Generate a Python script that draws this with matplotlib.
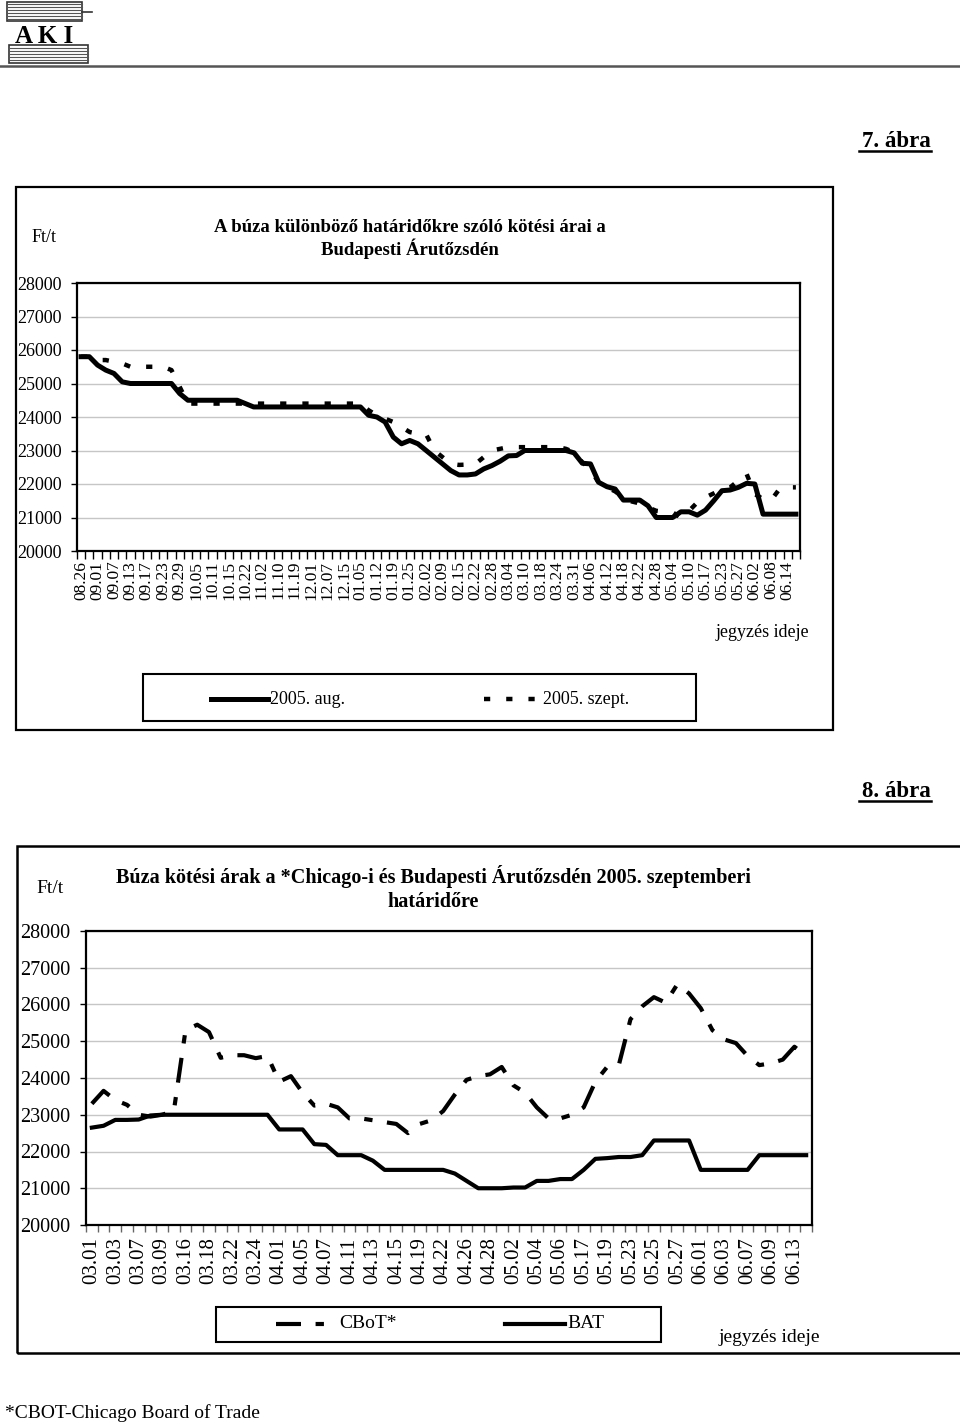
import numpy as np
import matplotlib
matplotlib.use("Agg")
import matplotlib.pyplot as plt
from matplotlib.lines import Line2D
from matplotlib.patches import Rectangle

plt.rcParams['font.family'] = ['Liberation Serif', 'DejaVu Serif']

# ---- 7. abra: aug / szept contracts ----
labels1 = ['08.26', '09.01', '09.07', '09.13', '09.17', '09.23', '09.29', '10.05', '10.11', '10.15',
           '10.22', '11.02', '11.10', '11.19', '12.01', '12.07', '12.15', '01.05', '01.12', '01.19',
           '01.25', '02.02', '02.09', '02.15', '02.22', '02.28', '03.04', '03.10', '03.18', '03.24',
           '03.31', '04.06', '04.12', '04.18', '04.22', '04.28', '05.04', '05.10', '05.17', '05.23',
           '05.27', '06.02', '06.08', '06.14']

aug = [25800, 25800, 25550, 25400, 25300, 25050, 25000, 25000, 25000, 25000, 25000, 25000,
       24700, 24500, 24500, 24500, 24500, 24500, 24500, 24500,
       24400, 24300, 24300, 24300, 24300, 24300, 24300, 24300, 24300, 24300, 24300, 24300, 24300, 24300, 24300,
       24050, 24000, 23850, 23400, 23200, 23300, 23200, 23000, 22800, 22600, 22400,
       22270, 22270, 22300, 22450, 22550, 22680, 22840, 22850, 23000, 23000, 23000, 23000, 23000, 23000,
       22930, 22620, 22600, 22050, 21920, 21850, 21520, 21520, 21520, 21350, 21000, 21000, 21000,
       21170, 21170, 21070, 21220, 21500, 21800, 21820, 21900, 22020, 22000, 21100, 21100, 21100, 21100, 21100]

szept = [25800, 25800, 25700, 25700, 25650, 25600, 25500, 25500, 25500, 25500, 25500, 25400, 24900, 24400,
         24400, 24400, 24400, 24400, 24400, 24400, 24400, 24400, 24400, 24400, 24400, 24400, 24400, 24400,
         24400, 24400, 24400, 24400, 24400, 24400, 24400,
         24200, 24050, 23950, 23850, 23700, 23550, 23500, 23480, 23000, 22800, 22600,
         22570, 22580, 22600, 22800, 23000, 23050, 23100, 23100, 23100, 23100, 23100, 23100, 23100, 23050,
         22950, 22650, 22450, 22030, 21900, 21780, 21600, 21480, 21420, 21300, 21200, 21170, 21150,
         21000, 21200, 21450, 21600, 21720, 21850, 21900, 22100, 22300, 21700, 21550, 21520, 21850, 21900, 21900]

# ---- 8. abra: CBoT vs BAT ----
labels2 = ['03.01', '03.03', '03.07', '03.09', '03.16', '03.18', '03.22', '03.24', '04.01', '04.05',
           '04.07', '04.11', '04.13', '04.15', '04.19', '04.22', '04.26', '04.28', '05.02', '05.04',
           '05.06', '05.17', '05.19', '05.23', '05.25', '05.27', '06.01', '06.03', '06.07', '06.09', '06.13']

bat = [22650, 22700, 22860, 22860, 22870, 22980, 23000,
       23000, 23000, 23000, 23000, 23000, 23000, 23000, 23000, 23000,
       22600, 22600, 22600, 22200, 22180, 21900, 21900, 21900, 21750, 21500,
       21500, 21500, 21500, 21500, 21500,
       21400, 21200, 21000, 21000, 21000, 21020, 21020, 21200, 21200, 21250, 21250,
       21500, 21800, 21820, 21850, 21850, 21900, 22300, 22300, 22300, 22300,
       21500, 21500, 21500, 21500, 21500, 21900, 21900, 21900, 21900, 21900]

cbot = [23300, 23650, 23400, 23270, 23000, 22950, 23000, 23100, 25300, 25450,
        25250, 24550, 24620, 24620, 24540, 24600, 23900, 24050, 23600, 23250,
        23300, 23200, 22900, 22900, 22850, 22800, 22750, 22500, 22750, 22850,
        23100, 23550, 23950, 24050, 24100, 24300, 23800, 23600, 23200, 22900,
        22900, 23000, 23200, 23900, 24300, 24350, 25600, 25950, 26200, 26050,
        26550, 26300, 25900, 25300, 25050, 24950, 24600, 24350, 24400, 24500,
        24850, 24600]

y_ticks = [20000, 21000, 22000, 23000, 24000, 25000, 26000, 27000, 28000]

W, H = 960, 1424
DOT = (0, (1.4, 3.6))
DASHDOT = (0, (6, 3.5, 2, 3.5))


def fx(x):
    return x / W


def fy(y):
    return 1 - y / H


def frame(fig, x0, y0, x1, y1, lw=1.6):
    fig.patches.append(Rectangle((fx(x0), fy(y1)), fx(x1) - fx(x0), fy(y0) - fy(y1),
                                 transform=fig.transFigure, fill=False, ec='black', lw=lw))


def hline(fig, x0, x1, y, **kw):
    fig.lines.append(Line2D([fx(x0), fx(x1)], [fy(y), fy(y)], transform=fig.transFigure, **kw))


def setup_axes(ax, n, labels, ysize, xsize, xpad, tickcolor, ticklen):
    ax.set_xlim(-0.5, n - 0.5)
    ax.set_ylim(20000, 28000)
    ax.set_yticks(y_ticks)
    ax.set_yticklabels([str(v) for v in y_ticks], fontsize=ysize)
    ax.tick_params(axis='y', direction='out', length=4, width=1, pad=7)
    ax.set_xticks(np.arange(0, n, 2))
    ax.set_xticklabels(labels, rotation=90, fontsize=xsize)
    ax.set_xticks(np.arange(-0.5, n, 1), minor=True)
    ax.tick_params(axis='x', which='major', length=0, pad=xpad)
    ax.tick_params(axis='x', which='minor', direction='out', length=ticklen, width=1, color=tickcolor)
    ax.yaxis.grid(True, color='#c6c6c6', lw=1.0)
    ax.set_axisbelow(True)
    for s in ax.spines.values():
        s.set_linewidth(1.6)
        s.set_color('black')


fig = plt.figure(figsize=(9.6, 14.24), dpi=100)

# logo
for yy in [4, 7, 10, 13, 16, 19]:
    hline(fig, 8, 82, yy, color='#555555', lw=0.8)
for yy in [48, 51, 54, 57, 60]:
    hline(fig, 10, 88, yy, color='#555555', lw=0.8)
fig.patches.append(Rectangle((fx(7), fy(21)), fx(82) - fx(7), fy(2) - fy(21), transform=fig.transFigure,
                             fill=False, ec='#333333', lw=1.2))
fig.patches.append(Rectangle((fx(9), fy(63)), fx(88) - fx(9), fy(45) - fy(63), transform=fig.transFigure,
                             fill=False, ec='#333333', lw=1.2))
hline(fig, 82, 92, 12, color='#333333', lw=1.2)
fig.text(fx(44), fy(43), 'A K I', ha='center', va='baseline', fontsize=18, fontweight='bold')
hline(fig, 0, 960, 66, color='#555555', lw=1.8)

# 7. abra
fig.text(fx(931), fy(147), '7. ábra', ha='right', va='baseline', fontsize=16.5, fontweight='bold')
hline(fig, 859, 931, 151, color='black', lw=1.8)
frame(fig, 16, 187, 833, 730)
fig.text(fx(32), fy(242), 'Ft/t', fontsize=13, va='baseline')
fig.text(fx(410), fy(232), 'A búza különböző határidőkre szóló kötési árai a',
         ha='center', va='baseline', fontsize=13.5, fontweight='bold')
fig.text(fx(410), fy(255), 'Budapesti Árutőzsdén', ha='center', va='baseline', fontsize=13.5, fontweight='bold')

ax1 = fig.add_axes([fx(77), fy(551), (800 - 77) / W, (551 - 283) / H])
x1 = np.arange(len(aug))
ax1.plot(x1, aug, color='black', lw=3.6, solid_joinstyle='round')
ax1.plot(x1, szept, color='black', lw=3.2, linestyle=DOT)
setup_axes(ax1, len(aug), labels1, 13, 12.5, 7, 'black', 6)

fig.text(fx(809), fy(637), 'jegyzés ideje', ha='right', va='baseline', fontsize=13)
frame(fig, 143, 674, 696, 721, lw=1.5)
fig.lines.append(Line2D([fx(211), fx(268)], [fy(699), fy(699)], transform=fig.transFigure,
                        color='black', lw=3.6))
fig.text(fx(270), fy(699), '2005. aug.', va='center', fontsize=13)
fig.lines.append(Line2D([fx(484), fx(540)], [fy(699), fy(699)], transform=fig.transFigure,
                        color='black', lw=3.2, linestyle=DOT))
fig.text(fx(543), fy(699), '2005. szept.', va='center', fontsize=13)

# 8. abra
fig.text(fx(931), fy(797), '8. ábra', ha='right', va='baseline', fontsize=16.5, fontweight='bold')
hline(fig, 859, 931, 801, color='black', lw=1.8)
frame(fig, 17, 846, 985, 1353, lw=1.8)
fig.text(fx(36), fy(893), 'Ft/t', fontsize=14, va='baseline')
fig.text(fx(433), fy(883), 'Búza kötési árak a *Chicago-i és Budapesti Árutőzsdén 2005. szeptemberi',
         ha='center', va='baseline', fontsize=14.5, fontweight='bold')
fig.text(fx(433), fy(907), 'határidőre', ha='center', va='baseline', fontsize=14.5, fontweight='bold')

ax2 = fig.add_axes([fx(86), fy(1225), (812 - 86) / W, (1225 - 931) / H])
x2 = np.arange(len(bat))
ax2.plot(x2, bat, color='black', lw=3.0, solid_joinstyle='round')
ax2.plot(x2, cbot, color='black', lw=3.0, linestyle=DASHDOT)
setup_axes(ax2, len(bat), labels2, 14.5, 15, 9, '#666666', 5)

frame(fig, 216, 1307, 661, 1342, lw=1.5)
fig.lines.append(Line2D([fx(276), fx(327)], [fy(1324), fy(1324)], transform=fig.transFigure,
                        color='black', lw=3.0, linestyle=DASHDOT))
fig.text(fx(339), fy(1324), 'CBoT*', va='center', fontsize=14)
fig.lines.append(Line2D([fx(505), fx(565)], [fy(1324), fy(1324)], transform=fig.transFigure,
                        color='black', lw=3.0))
fig.text(fx(567), fy(1324), 'BAT', va='center', fontsize=14)
fig.text(fx(718), fy(1337), 'jegyzés ideje', va='center', fontsize=14)

fig.text(fx(5), fy(1418), '*CBOT-Chicago Board of Trade', va='baseline', fontsize=14)

fig.savefig('out.png', dpi=100, facecolor='white')
